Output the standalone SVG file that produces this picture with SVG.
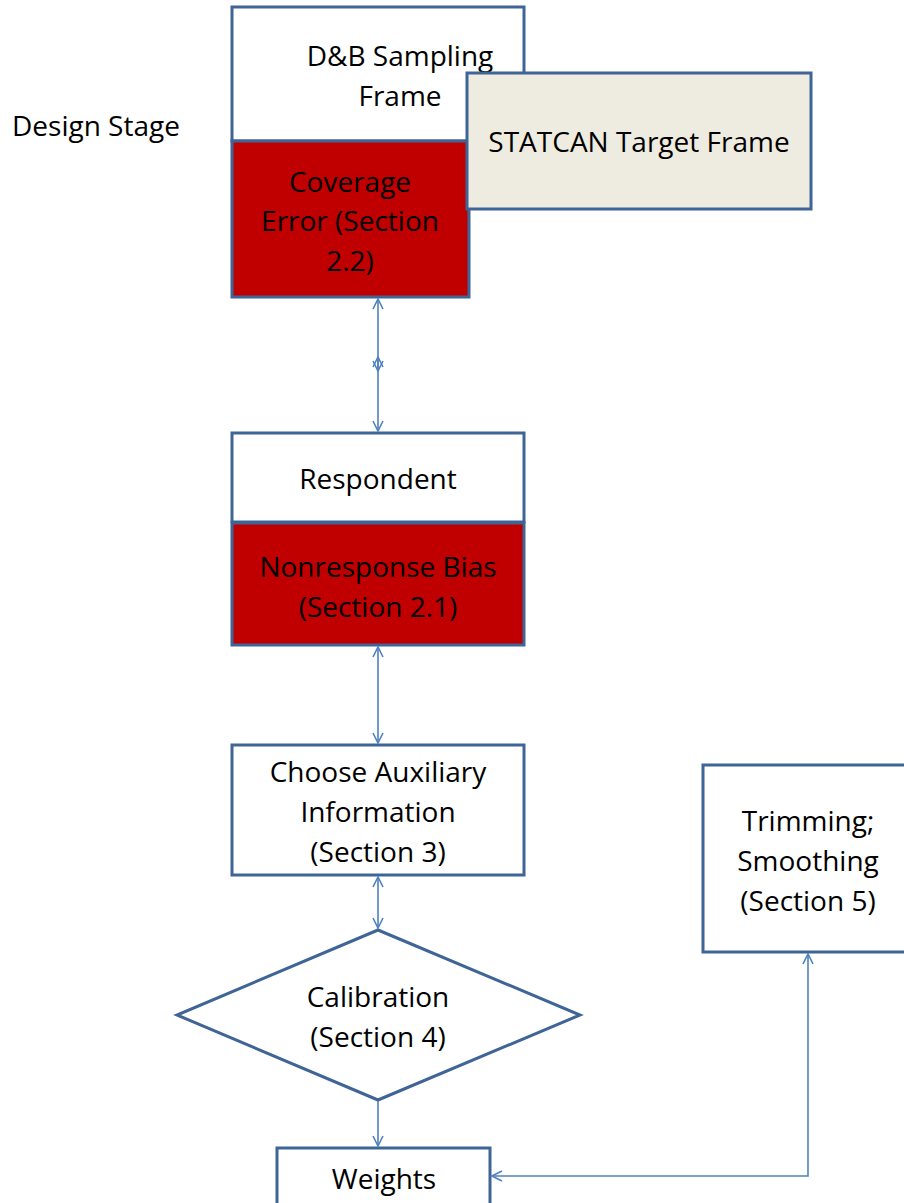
<svg xmlns="http://www.w3.org/2000/svg" width="904" height="1203" viewBox="0 0 904 1203">
<style>
.box{stroke:#3F6496;stroke-width:3;fill:#fff}
.red{fill:#C00000}
.beige{fill:#EEEBE0}
.t{font-family:"Open Sans","Liberation Sans",Arial,sans-serif;font-size:28px;fill:#000;text-anchor:middle}
.c{stroke:#4F81BD;stroke-width:1.6;fill:none}
</style>
<defs>
<marker id="ah" viewBox="0 0 12 12" refX="11" refY="6" markerWidth="12" markerHeight="12" markerUnits="userSpaceOnUse" orient="auto-start-reverse">
<path d="M1,1 L11,6 L1,11" fill="none" stroke="#4F81BD" stroke-width="1.6"/>
</marker>
</defs>
<rect width="904" height="1203" fill="#fff"/>
<text x="12" y="136" class="t" style="text-anchor:start">Design Stage</text>
<g id="sampling-frame">
<rect x="232" y="7" width="292" height="134" class="box"/>
<text class="t" x="400" y="66">D&amp;B Sampling</text>
<text class="t" x="400" y="106">Frame</text>
</g>
<g id="coverage-error">
<rect x="232" y="141" width="237" height="156" class="box red"/>
<text class="t" x="350" y="192">Coverage</text>
<text class="t" x="350" y="231">Error (Section</text>
<text class="t" x="350" y="271">2.2)</text>
</g>
<g id="target-frame">
<rect x="467" y="73" width="344" height="136" class="box beige"/>
<text class="t" x="639" y="152">STATCAN Target Frame</text>
</g>
<g id="respondent">
<rect x="232" y="433" width="292" height="89" class="box"/>
<text class="t" x="378" y="489">Respondent</text>
</g>
<g id="nonresponse">
<rect x="232" y="523" width="292" height="122" class="box red"/>
<text class="t" x="378" y="577">Nonresponse Bias</text>
<text class="t" x="378" y="617">(Section 2.1)</text>
</g>
<g id="auxiliary">
<rect x="232" y="745" width="292" height="130" class="box"/>
<text class="t" x="378" y="782">Choose Auxiliary</text>
<text class="t" x="378" y="822">Information</text>
<text class="t" x="378" y="862">(Section 3)</text>
</g>
<g id="calibration">
<polygon points="378,930 580,1015 378,1100 177,1015" class="box"/>
<text class="t" x="378" y="1007">Calibration</text>
<text class="t" x="378" y="1047">(Section 4)</text>
</g>
<g id="trimming">
<rect x="703" y="765" width="210" height="187" class="box"/>
<text class="t" x="808" y="831">Trimming;</text>
<text class="t" x="808" y="871">Smoothing</text>
<text class="t" x="808" y="911">(Section 5)</text>
</g>
<g id="weights">
<rect x="277" y="1148" width="213" height="70" class="box"/>
<text class="t" x="384" y="1189">Weights</text>
</g>
<g id="connectors">
<line x1="378" y1="299" x2="378" y2="371" class="c" marker-start="url(#ah)" marker-end="url(#ah)"/>
<line x1="378" y1="357" x2="378" y2="431" class="c" marker-start="url(#ah)" marker-end="url(#ah)"/>
<line x1="378" y1="647" x2="378" y2="743" class="c" marker-start="url(#ah)" marker-end="url(#ah)"/>
<line x1="378" y1="877" x2="378" y2="928" class="c" marker-start="url(#ah)" marker-end="url(#ah)"/>
<line x1="378" y1="1101" x2="378" y2="1146" class="c" marker-end="url(#ah)"/>
<polyline points="492,1176 808,1176 808,954" class="c" marker-start="url(#ah)" marker-end="url(#ah)"/>
</g>
</svg>
